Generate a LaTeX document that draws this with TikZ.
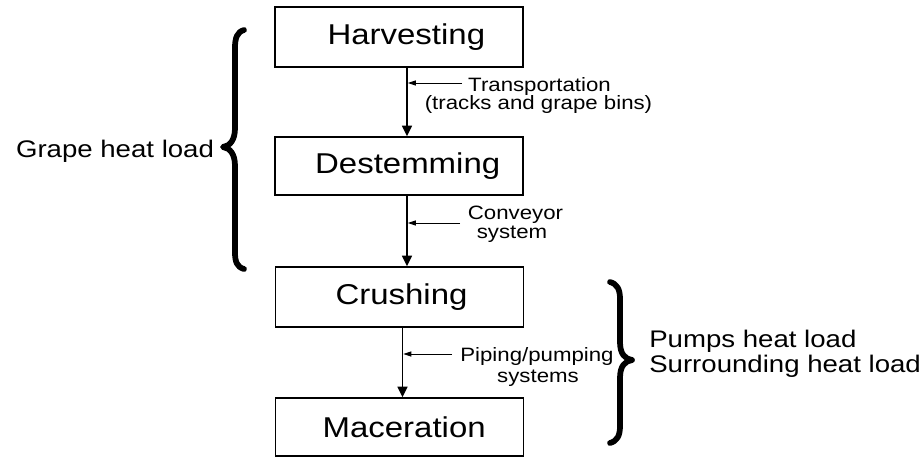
\documentclass[tikz,border=0pt]{standalone}
\usepackage{fontspec}
\setmainfont{Liberation Sans}[FakeStretch=1.15]
\usetikzlibrary{arrows.meta}
\begin{document}
\begin{tikzpicture}[x=0.75pt,y=-0.75pt,
  stage/.style={draw, line width=1.1pt, minimum width=186pt, minimum height=45pt,
                inner sep=0pt, font=\fontsize{21.5}{24}\selectfont},
  flow/.style={line width=1.1pt, -{Triangle[length=8pt,width=7.5pt]}},
  note/.style={line width=0.75pt, shorten >=0.6pt, -{Triangle[length=6pt,width=3.8pt]}},
  small/.style={font=\fontsize{14.5}{17}\selectfont, inner sep=0pt, anchor=base},
  side/.style={font=\fontsize{18}{20}\selectfont, inner sep=0pt, anchor=base},
  brace/.style={line width=4.3pt, line cap=round, line join=round}]
\useasboundingbox (0,0) rectangle (924,458);

% process stages (labels sit a little right of centre)
\node[stage] (harv) at (399,37) {\kern11pt Harvesting};
\node[stage, minimum height=43.5pt] (dest) at (399,166) {\kern13pt Destemming};
\node[stage] (crush) at (399.5,297) {\kern3pt Crushing};
\node[stage, minimum height=43.5pt] (mac) at (399.5,427) {\kern7pt Maceration};

% flow between stages
\coordinate (a1) at (407,0);
\coordinate (a3) at (402.5,0);
\draw[flow] (harv.south -| a1) -- (dest.north -| a1);
\draw[flow] (dest.south -| a1) -- (crush.north -| a1);
\draw[flow] (crush.south -| a3) -- (mac.north -| a3);

% transfer means
\node[small] (tr1) at (539.5,91) {Transportation};
\node[small] (tr2) at (538.5,109.5) {(tracks and grape bins)};
\node[small] (cv1) at (515.5,219) {Conveyor};
\node[small] (cv2) at (512,238) {system};
\node[small] (pp1) at (537,361) {Piping/pumping};
\node[small] (pp2) at (538,382) {systems};

\coordinate (n1) at (462,83);
\coordinate (n2) at (460,223);
\coordinate (n3) at (452,354);
\draw[note] (n1) -- (n1 -| a1);
\draw[note] (n2) -- (n2 -| a1);
\draw[note] (n3) -- (n3 -| a3);

% heat load groups
\draw[brace] (244,30) .. controls (237,32) and (235,38) .. (235,48) -- (235,128)
  .. controls (235,140) and (230,146) .. (223,147)
  .. controls (230,148) and (235,154) .. (235,166) -- (235,252)
  .. controls (235,262) and (237,267) .. (244,269);
\draw[brace] (610,282) .. controls (617,284) and (620,289) .. (620,299) -- (620,342)
  .. controls (620,354) and (625,359) .. (632,360)
  .. controls (625,361) and (620,366) .. (620,378) -- (620,426)
  .. controls (620,436) and (617,441) .. (610,443);

\node[side] (gh) at (115,157) {Grape heat load};
\node[side, anchor=base west] (ph) at (649,347) {Pumps heat load};
\node[side, anchor=base west] (sh) at (649,372) {Surrounding heat load};
\end{tikzpicture}
\end{document}
